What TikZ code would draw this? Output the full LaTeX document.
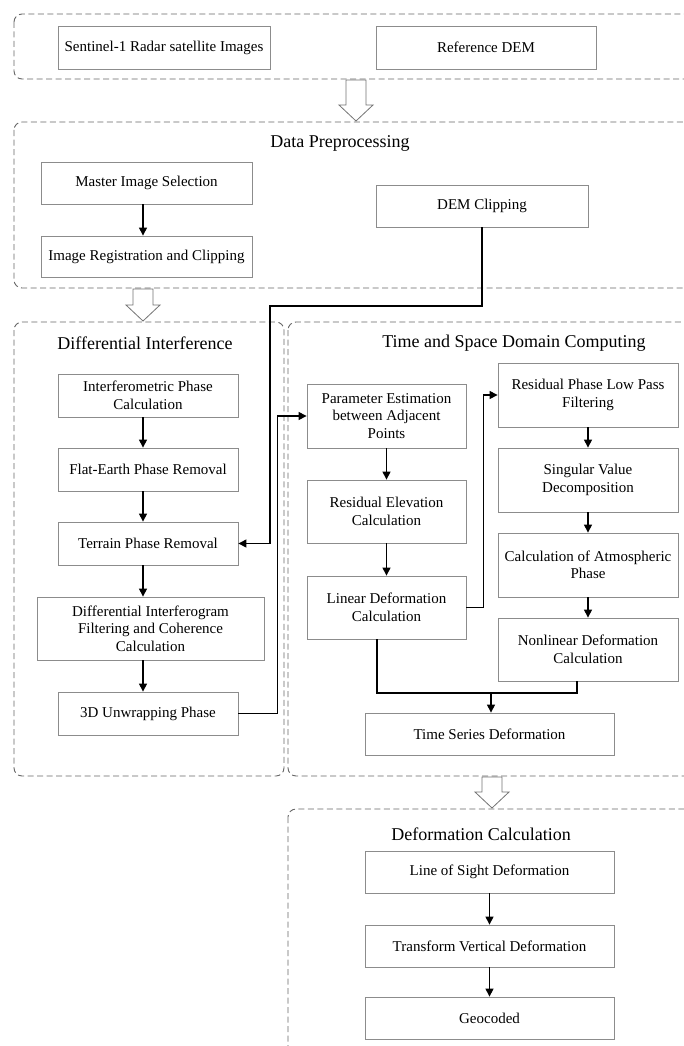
\documentclass[tikz,border=0pt]{standalone}
\usepackage{fontspec}
\setmainfont{Liberation Serif}
\usetikzlibrary{arrows.meta,positioning,calc}

% hollow block arrow between the stages: x, top, tip
\newcommand{\hollowarrow}[3]{%
  \draw[black!55, fill=white, line width=0.8pt]
    (#1-10,#2) -- (#1+10,#2) -- (#1+10,#3-16) -- (#1+17,#3-16)
    -- (#1,#3) -- (#1-17,#3-16) -- (#1-10,#3-16) -- cycle;}

\begin{document}
\begin{tikzpicture}[x=1pt, y=-1pt,
    box/.style={draw=black!45, line width=0.8pt, fill=white, align=center,
      inner sep=2pt, font=\fontsize{15}{17.5}\selectfont},
    dbox/.style={box, minimum width=180pt, minimum height=43pt},
    rbox/.style={box, minimum width=180pt, minimum height=64pt},
    pbox/.style={box, minimum width=159pt, minimum height=63pt},
    sbox/.style={box, minimum width=249pt, minimum height=42pt},
    group/.style={draw=black!60, line width=0.9pt,
      dash pattern=on 6pt off 3.5pt, rounded corners=8pt},
    grouptitle/.style={font=\fontsize{18}{20}\selectfont},
    arr/.style={line width=1.1pt, -{Triangle[length=8pt,width=8pt]}},
    link/.style={line width=1.1pt}]
  \useasboundingbox (0,0) rectangle (684,1046);

  % Stage frames
  \draw[group] (14,14) rectangle (700,79);
  \draw[group] (14,122) rectangle (700,288);
  \draw[group] (14,322) rectangle (284,776);
  \draw[group] (288,322) rectangle (700,776);
  \draw[group] (288,809) rectangle (700,1070);

  % Input data
  \node[box, minimum width=212pt, minimum height=43pt] (sentinel) at (164,47.5) {Sentinel-1 Radar satellite Images};
  \node[box, minimum width=220pt, minimum height=43pt] (refdem) at (486,47.5) {Reference DEM};

  % Data preprocessing
  \node[grouptitle] (pretitle) at (340,143) {Data Preprocessing};
  \node[box, minimum width=211pt, minimum height=42pt] (master) at (146.5,183) {Master Image Selection};
  \node[box, minimum width=211pt, minimum height=41pt] (regist) at (146.5,256.5) {Image Registration and Clipping};
  \node[box, minimum width=212pt, minimum height=42pt] (demclip) at (482,206) {DEM Clipping};

  % Differential interference
  \node[grouptitle] (diftitle) at (145,343) {Differential Interference};
  \node[dbox] (interf) at (148,395.5) {Interferometric Phase\\Calculation};
  \node[dbox] (flat) at (148,469.5) {Flat-Earth Phase Removal};
  \node[dbox] (terrain) at (148,543.5) {Terrain Phase Removal};
  \node[box, minimum width=227pt, minimum height=63pt] (diffint) at (150.5,628.5) {Differential Interferogram\\Filtering and Coherence\\Calculation};
  \node[dbox] (unwrap) at (148,713.5) {3D Unwrapping Phase};

  % Time and space domain computing
  \node[grouptitle] (tstitle) at (514,343) {Time and Space Domain Computing};
  \node[pbox, minimum height=64pt] (param) at (386.5,416) {Parameter Estimation\\between Adjacent\\Points};
  \node[pbox] (reselev) at (386.5,511.5) {Residual Elevation\\Calculation};
  \node[pbox] (linear) at (386.5,607.5) {Linear Deformation\\Calculation};
  \node[rbox] (resphase) at (588,395) {Residual Phase Low Pass\\Filtering};
  \node[rbox] (svd) at (588,480) {Singular Value\\Decomposition};
  \node[rbox] (atmos) at (588,565) {Calculation of Atmospheric\\Phase};
  \node[rbox, minimum height=63pt] (nonlin) at (588,649.5) {Nonlinear Deformation\\Calculation};
  \node[sbox] (series) at (489.5,734) {Time Series Deformation};

  % Deformation calculation
  \node[grouptitle] (deftitle) at (481,834) {Deformation Calculation};
  \node[sbox] (los) at (489.5,872) {Line of Sight Deformation};
  \node[sbox] (vert) at (489.5,946) {Transform Vertical Deformation};
  \node[sbox] (geocode) at (489.5,1018) {Geocoded};

  % Connectors
  \coordinate (dcol) at (143,0);
  \coordinate (demturn) at (270,306);
  \coordinate (merge) at (491,693);
  \draw[arr] (master.south -| dcol) -- (regist.north -| dcol);
  \foreach \a/\b in {interf/flat, flat/terrain, terrain/diffint, diffint/unwrap}
    \draw[arr] (\a.south -| dcol) -- (\b.north -| dcol);
  \draw[arr] (demclip.south) |- (demturn) |- (terrain.east);
  \draw[arr] (unwrap.east) -- ++(39,0) |- (param.west);
  \foreach \a/\b in {param/reselev, reselev/linear, resphase/svd, svd/atmos,
    atmos/nonlin, los/vert, vert/geocode}
    \draw[arr] (\a) -- (\b);
  \draw[arr] (linear.east) -- ++(17,0) |- (resphase.west);
  \draw[link] ([xshift=-9.5pt]linear.south) |- (merge) -| ([xshift=-11pt]nonlin.south);
  \draw[arr] (merge) -- (merge |- series.north);

  % Stage arrows
  \hollowarrow{356}{80}{121}
  \hollowarrow{143}{289}{321}
  \hollowarrow{492}{777}{808}
\end{tikzpicture}
\end{document}
